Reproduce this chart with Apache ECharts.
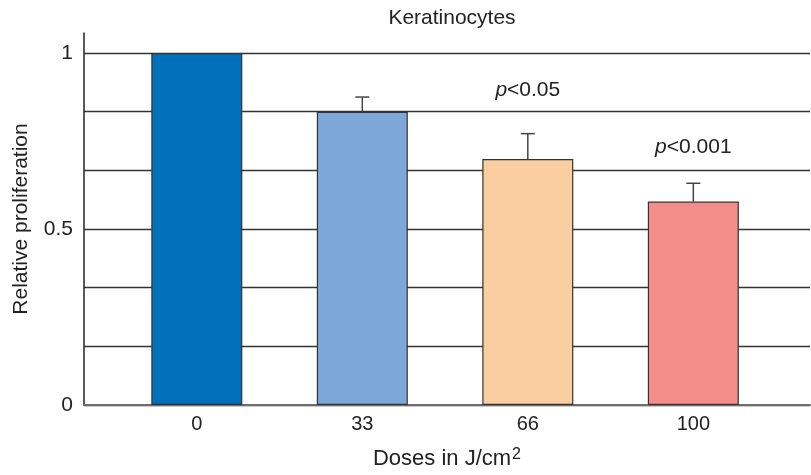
<!DOCTYPE html>
<html>
<head>
<meta charset="utf-8">
<script src="https://cdn.jsdelivr.net/npm/echarts@6/dist/echarts.min.js"></script>
<style>
html,body{margin:0;padding:0;background:#fff;}
#chart{width:811px;height:475px;}
</style>
</head>
<body>
<div id="chart"></div>
<script>
// ---- data ----
var categories = ['0', '33', '66', '100'];
var values = [1.0, 0.833, 0.699, 0.578];
var errorTops = [null, 0.875, 0.771, 0.630];
var yLabelValues = [0, 0.5, 1];
var annotationTexts = ['p<0.05', 'p<0.001'];
var annotationPos = [[2, 0.894], [3, 0.733]];

// ---- styles ----
var barColors = ['#0070BA', '#7DA7D9', '#FBCEA2', '#F48E8A'];
var FONT = 'Liberation Sans, Arial, Helvetica, sans-serif';
var TXT = '#222';

var chart = echarts.init(document.getElementById('chart'), null, {renderer: 'canvas'});

var barData = values.map(function (v, i) {
  return {value: [i, v], itemStyle: {color: barColors[i]}};
});
var errData = [];
errorTops.forEach(function (t, i) {
  if (t != null) errData.push([i, values[i], t]);
});
var annData = annotationPos.map(function (p, i) {
  return {value: p, name: annotationTexts[i]};
});

chart.setOption({
  animation: false,
  title: {
    text: 'Keratinocytes',
    left: 447,
    top: 3,
    textAlign: 'center',
    textStyle: {fontFamily: FONT, fontSize: 21, fontWeight: 'normal', color: TXT}
  },
  grid: {left: 84, right: 1, top: 33, bottom: 69},
  xAxis: {
    type: 'value',
    min: -0.6816,
    max: 3.705,
    name: 'Doses in J/cm{sup|2}',
    nameLocation: 'middle',
    nameGap: 42,
    nameTextStyle: {
      fontFamily: FONT, fontSize: 22, color: TXT,
      rich: {sup: {fontFamily: FONT, fontSize: 16, color: TXT, verticalAlign: 'top', padding: [0, 0, 8, 1]}}
    },
    axisLine: {show: true, onZero: false, lineStyle: {color: '#6e6e6e', width: 2}},
    axisTick: {show: false},
    splitLine: {show: false},
    axisLabel: {
      customValues: [0, 1, 2, 3],
      margin: 9,
      fontFamily: FONT, fontSize: 20, color: TXT,
      formatter: function (v) { return categories[Math.round(v)]; }
    }
  },
  yAxis: {
    type: 'value',
    min: 0,
    max: 1.057,
    interval: 1 / 6,
    name: 'Relative proliferation',
    nameLocation: 'middle',
    nameGap: 52,
    nameTextStyle: {fontFamily: FONT, fontSize: 21, color: TXT},
    axisLine: {show: true, onZero: false, lineStyle: {color: '#222', width: 1.5}},
    axisTick: {show: false},
    splitLine: {show: true, showMaxLine: false, lineStyle: {color: '#333', width: 1.3}},
    axisLabel: {
      customValues: yLabelValues,
      margin: 11,
      fontFamily: FONT, fontSize: 21, color: TXT,
      formatter: function (v) { return String(v); }
    }
  },
  series: [
    {
      type: 'bar',
      data: barData,
      barWidth: 91,
      itemStyle: {borderColor: '#333', borderWidth: 1.2},
      z: 3
    },
    {
      type: 'custom',
      data: errData,
      z: 4,
      renderItem: function (params, api) {
        var base = api.coord([api.value(0), api.value(1)]);
        var top = api.coord([api.value(0), api.value(2)]);
        var half = 7;
        var st = {stroke: '#444', lineWidth: 1.5};
        return {
          type: 'group',
          children: [
            {type: 'line', shape: {x1: base[0], y1: base[1], x2: top[0], y2: top[1]}, style: st},
            {type: 'line', shape: {x1: top[0] - half, y1: top[1], x2: top[0] + half, y2: top[1]}, style: st}
          ]
        };
      }
    },
    {
      type: 'scatter',
      data: annData,
      symbolSize: 0,
      z: 5,
      itemStyle: {opacity: 1},
      label: {
        show: true,
        position: 'inside',
        opacity: 1,
        fontFamily: FONT, fontSize: 21, color: TXT,
        formatter: function (p) {
          var t = p.name;
          return '{i|p}' + t.slice(1);
        },
        rich: {i: {fontFamily: FONT, fontSize: 21, color: TXT, fontStyle: 'italic'}}
      }
    }
  ]
});
</script>
</body>
</html>
